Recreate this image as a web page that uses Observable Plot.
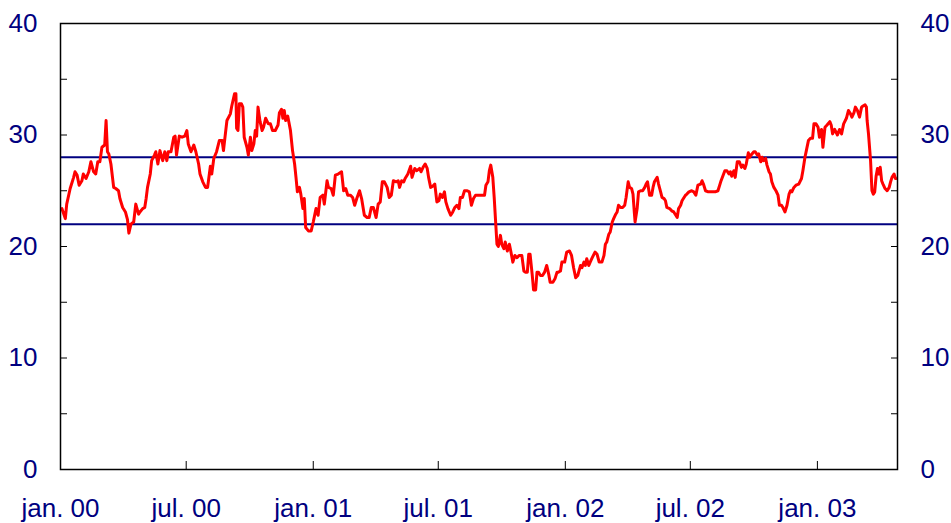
<!DOCTYPE html>
<html lang="no">
<head>
<meta charset="utf-8">
<script src="https://cdn.jsdelivr.net/npm/d3@7"></script>
<script src="https://cdn.jsdelivr.net/npm/@observablehq/plot@0.6"></script>
<style>
  html, body { margin: 0; padding: 0; background: #fff; }
  #chart { width: 951px; height: 523px; }
</style>
</head>
<body>
<div id="chart"></div>
<script>
// Day offsets from 1 Jan 2000 and oil price (USD per barrel)
const dayOffsets = [
  2,7,9,14,19,21,24,27,31,33,37,41,44,48,51,54,57,60,64,66,68,70,73,77,80,84,86,90,94,97,99,102,106,109,113,115,119,122,124,126,130,132,136,138,141,144,148,151,154,156,160,164,166,168,172,176,180,183,185,189,193,196,200,
  202,206,210,213,217,219,222,226,230,234,236,238,241,246,248,252,254,255,257,259,262,264,266,270,272,275,277,280,282,284,286,289,292,294,297,301,304,307,311,315,317,320,322,324,326,329,333,336,339,341,343,346,348,351,353,355,359,363,366,370,373,376,380,382,386,388,392,395,398,402,
  407,410,413,416,420,423,426,429,433,436,440,444,447,450,453,457,460,463,466,469,473,476,479,482,486,489,491,494,497,499,503,507,509,513,516,520,522,525,528,531,533,536,539,542,545,548,550,553,556,558,561,565,568,571,574,577,579,582,585,589,592,595,598,601,605,
  608,611,614,616,619,621,623,626,628,630,632,634,637,639,642,644,647,650,652,655,658,661,664,668,671,673,676,678,680,683,685,688,690,692,695,698,701,704,707,709,713,716,719,721,724,726,730,733,737,740,743,746,749,753,755,758,760,762,765,767,770,774,777,780,784,787,789,791,794,796,799,801,804,806,808,
  811,814,817,819,822,824,827,829,831,832,835,837,840,843,846,848,850,853,856,858,860,864,866,869,871,874,876,878,882,885,888,891,893,895,898,900,902,905,907,910,914,917,920,923,927,929,931,934,938,941,944,948,952,956,959,962,965,968,970,972,975,977,980,983,986,988,991,993,996,998,1000,1004,1006,1009,1011,
  1014,1016,1018,1021,1023,1026,1028,1030,1033,1036,1039,1041,1044,1046,1049,1052,1055,1057,1059,1062,1065,1069,1073,1075,1078,1080,1083,1086,1089,1091,1094,1097,1099,1102,1104,1107,1110,1114,1116,1118,1121,1125,1128,1131,1134,1138,1141,1144,1146,1149,1151,1154,1157,1160,1162,1165,1167,1168,1170,1173,1175,1177,1179,1181,1183,1185,1187,1189,1191,1194,1197,1200,1202,1204,1207,1209,1210
];
const prices = [
  23.4,22.5,23.8,25.2,26.2,26.7,26.4,25.5,25.9,26.5,26.1,26.7,27.6,26.7,26.5,27.6,27.6,28.9,29.1,31.3,28.5,28.3,27.4,25.3,25.2,25.0,24.3,23.5,23.1,22.4,21.2,22.0,22.2,23.8,22.9,23.1,23.4,23.5,24.3,25.3,26.5,27.7,28.2,28.5,27.4,28.6,27.7,28.5,27.7,28.5,28.5,29.8,29.9,28.2,29.9,29.8,29.9,30.4,29.2,28.5,29.1,28.5,27.4,
  26.5,25.8,25.3,25.3,27.2,26.5,27.9,28.5,29.5,29.5,28.6,29.7,31.3,31.9,32.6,33.7,33.7,30.6,30.4,32.8,32.8,32.5,29.8,28.9,28.2,29.8,28.6,29.2,30.4,29.9,32.5,31.2,30.4,30.7,31.5,31.0,31.0,30.4,30.4,30.9,32.0,32.3,31.5,32.2,31.3,31.7,30.4,28.6,27.4,26.2,24.9,25.3,24.7,23.4,24.3,21.7,21.4,21.4,22.2,23.4,22.8,24.4,24.6,23.8,25.9,25.3,25.2,24.6,26.4,26.5,
  26.7,25.0,25.2,24.6,24.6,24.4,23.7,24.3,25.0,24.3,22.8,22.6,22.6,23.5,23.5,22.6,23.8,24.0,25.8,25.8,25.3,24.4,24.6,25.9,25.8,25.9,25.3,25.9,25.8,26.1,26.5,27.2,26.2,27.0,26.8,27.0,26.7,27.1,27.4,27.0,26.2,25.3,25.4,25.6,24.0,24.1,24.7,24.4,24.9,24.0,23.4,22.8,23.1,23.5,23.7,23.4,24.4,24.4,25.0,25.0,24.9,23.7,24.3,24.6,24.6,
  24.6,24.6,24.6,25.5,25.8,26.8,27.3,26.2,24.4,22.3,20.2,20.0,21.0,20.2,19.8,20.4,19.6,20.2,19.6,18.6,19.2,19.0,19.2,19.2,17.8,17.7,17.7,19.3,19.3,17.5,16.1,16.1,17.7,17.7,17.4,17.4,17.7,18.3,17.5,16.8,16.8,17.1,17.7,17.7,17.8,18.6,18.6,19.5,19.6,19.2,18.1,17.2,17.4,18.3,18.1,18.6,18.3,18.9,18.3,18.6,19.0,19.5,19.3,18.6,18.6,19.2,20.2,20.4,21.1,21.3,22.2,22.5,22.9,23.1,23.7,
  23.5,23.5,23.7,24.4,25.8,25.3,25.2,24.7,23.0,22.2,23.4,24.9,25.0,25.0,25.3,25.6,25.8,24.6,24.6,25.3,25.8,26.2,25.6,24.9,24.4,24.3,24.1,23.5,23.4,23.2,23.1,22.8,22.6,23.4,23.7,24.1,24.3,24.6,24.7,24.9,25.0,24.9,24.6,25.5,25.6,25.9,25.6,25.0,24.9,24.9,24.9,24.9,25.0,25.8,26.3,26.8,26.8,26.5,26.7,26.3,26.8,26.2,27.6,27.6,27.1,27.3,27.0,27.4,28.4,28.0,28.2,28.5,28.5,28.2,28.3,
  27.6,28.0,27.7,27.9,27.3,26.7,26.5,25.8,25.3,25.0,24.6,23.7,23.7,23.5,23.1,23.7,24.7,25.0,24.9,25.3,25.5,25.6,26.1,26.8,28.0,28.6,29.5,29.7,29.7,31.0,31.0,30.7,29.8,30.5,28.9,30.7,30.9,31.2,30.9,30.1,30.5,30.0,30.5,30.1,31.0,31.5,32.2,31.9,31.6,32.0,32.5,32.2,31.6,32.5,32.6,32.7,32.5,31.3,30.1,27.7,25.0,24.7,24.9,26.3,27.0,26.5,27.1,25.9,25.6,25.2,25.0,25.3,25.8,26.2,26.5,26.1,26.1
];
// Target band (lower / upper)
const bandLevels = [22, 28];
// Axis ticks
const yLabelTicks = [0, 10, 20, 30, 40];
const yAllTicks = [0, 5, 10, 15, 20, 25, 30, 35, 40];
const xTickDates = ["2000-01-01","2000-07-01","2001-01-01","2001-07-01","2002-01-01","2002-07-01","2003-01-01"];
const xTickLabels = ["jan. 00","jul. 00","jan. 01","jul. 01","jan. 02","jul. 02","jan. 03"];
const xDomain = ["2000-01-01", "2003-04-27"];

const day0 = Date.UTC(2000, 0, 1);
const toDate = d => new Date(day0 + d * 864e5);
const data = dayOffsets.map((d, i) => ({date: toDate(d), price: prices[i]}));
const xTicks = xTickDates.map(s => new Date(s + "T00:00:00Z"));
const labelFor = d => xTickLabels[xTicks.findIndex(t => +t === +d)];

const navy = "#000080";
const font = "'Liberation Sans', Arial, sans-serif";

const chart = Plot.plot({
  width: 951,
  height: 523,
  marginLeft: 60,
  marginRight: 54,
  marginTop: 23,
  marginBottom: 54,
  style: {fontFamily: font, fontSize: "26px", background: "#fff", color: navy, overflow: "visible"},
  x: {type: "utc", domain: xDomain.map(s => new Date(s + "T00:00:00Z"))},
  y: {domain: [0, 40]},
  marks: [
    Plot.ruleY(bandLevels, {stroke: navy, strokeWidth: 2}),
    Plot.lineY(data, {x: "date", y: "price", stroke: "#ff0000", strokeWidth: 3, strokeLinejoin: "round"}),
    Plot.frame({stroke: "#000", strokeWidth: 1.5}),
    // inward tick marks
    Plot.axisY({anchor: "left", ticks: yAllTicks, tickSize: -7, stroke: "#000", fill: "none", label: null}),
    Plot.axisY({anchor: "right", ticks: yAllTicks, tickSize: -7, stroke: "#000", fill: "none", label: null}),
    Plot.axisX({anchor: "bottom", ticks: xTicks, tickSize: -8, stroke: "#000", fill: "none", label: null}),
    // labels
    Plot.axisY({anchor: "left", ticks: yLabelTicks, tickSize: 0, tickPadding: 23, fill: navy, fontSize: 26, label: null}),
    Plot.axisY({anchor: "right", ticks: yLabelTicks, tickSize: 0, tickPadding: 23, fill: navy, fontSize: 26, label: null}),
    Plot.axisX({anchor: "bottom", ticks: xTicks, tickSize: 0, tickPadding: 29, fill: navy, fontSize: 26, label: null, tickFormat: labelFor})
  ]
});
document.getElementById("chart").appendChild(chart);
</script>
</body>
</html>
